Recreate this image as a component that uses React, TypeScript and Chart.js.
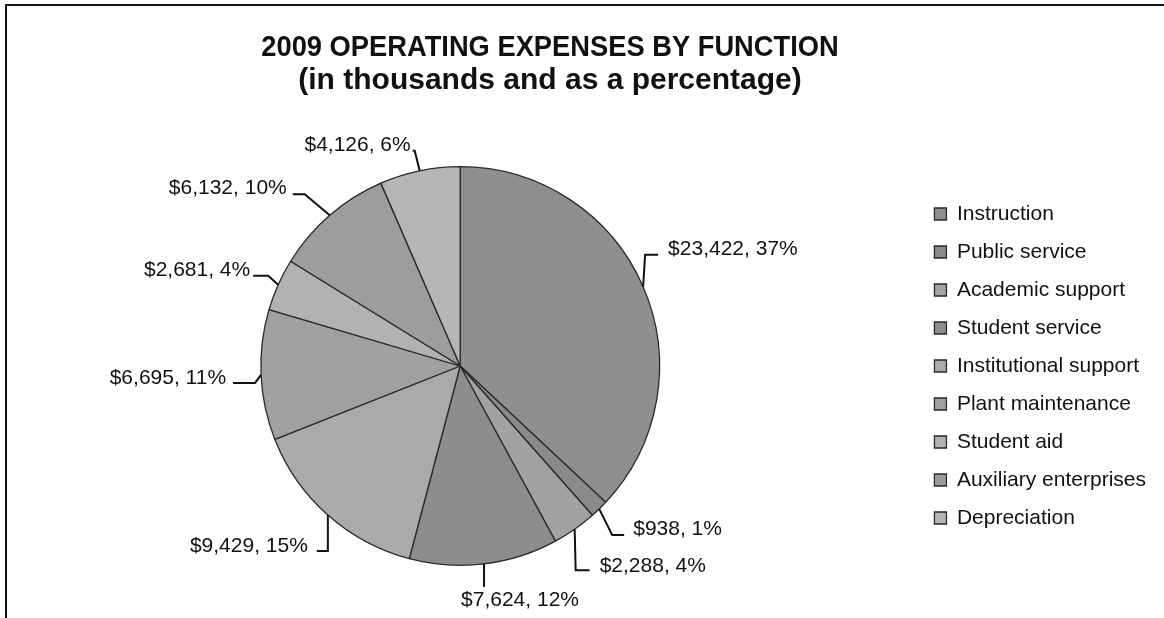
import React, { useEffect, useRef } from 'react';
import { Chart, registerables } from 'chart.js';

Chart.register(...registerables);

const categories = [
  'Instruction',
  'Public service',
  'Academic support',
  'Student service',
  'Institutional support',
  'Plant maintenance',
  'Student aid',
  'Auxiliary enterprises',
  'Depreciation',
];
const expenses = [23422, 938, 2288, 7624, 9429, 6695, 2681, 6132, 4126];
const percentLabels = [37, 1, 4, 12, 15, 11, 4, 10, 6];
const sliceColors = [
  '#8f8f8f',
  '#8a8a8a',
  '#a2a2a2',
  '#8d8d8d',
  '#aaaaaa',
  '#a0a0a0',
  '#b2b2b2',
  '#9d9d9d',
  '#b6b6b6',
];
const titleLines = ['2009 OPERATING EXPENSES BY FUNCTION', '(in thousands and as a percentage)'];

// leader-line layout, relative to the midpoint of each slice's outer edge
const leaderLayout = [
  { kx: 2, ky: -32, h: 13, gap: 10, dy: -6 },
  { kx: 13, ky: 26, h: 12, gap: 9, dy: -6 },
  { kx: 1, ky: 41, h: 14, gap: 10, dy: -4 },
  { kx: 0, ky: 23, below: true, tx: 36, ty: 13 },
  { kx: 0, ky: 36, h: -11, gap: 9, dy: -5 },
  { kx: -6, ky: 8, h: -22, gap: 7, dy: -5 },
  { kx: -10, ky: -9, h: -15, gap: 3, dy: -5 },
  { kx: -25, ky: -21, h: -12, gap: 6, dy: -6 },
  { kx: -5, ky: -20, h: -2, gap: 2, dy: -6 },
];

const FONT = "'Liberation Sans', Arial, sans-serif";

const fmt = (v: number) => '$' + v.toLocaleString('en-US');

const framePlugin = {
  id: 'frameAndTitle',
  beforeDraw(chart: any) {
    const ctx = chart.ctx;
    ctx.save();
    ctx.fillStyle = '#ffffff';
    ctx.fillRect(0, 0, chart.width, chart.height);
    ctx.strokeStyle = '#111111';
    ctx.lineWidth = 2;
    ctx.beginPath();
    ctx.moveTo(6, chart.height);
    ctx.lineTo(6, 5);
    ctx.lineTo(chart.width, 5);
    ctx.stroke();
    ctx.restore();
  },
  afterDraw(chart: any) {
    const ctx = chart.ctx;
    ctx.save();
    ctx.fillStyle = '#111111';
    ctx.textAlign = 'center';
    ctx.textBaseline = 'middle';
    ctx.font = `bold 30px ${FONT}`;
    const cx = 550;
    const ys = [48, 81];
    const sx = [0.91, 1.0];
    titleLines.forEach((t, i) => {
      ctx.save();
      ctx.translate(cx, ys[i]);
      ctx.scale(sx[i], 1);
      ctx.fillText(t, 0, 0);
      ctx.restore();
    });
    ctx.restore();
  },
};

const labelPlugin = {
  id: 'leaderLabels',
  afterDatasetsDraw(chart: any) {
    const ctx = chart.ctx;
    const meta = chart.getDatasetMeta(0);
    ctx.save();
    ctx.strokeStyle = '#111111';
    ctx.fillStyle = '#111111';
    ctx.lineWidth = 2;
    ctx.font = `21px ${FONT}`;
    ctx.textBaseline = 'middle';
    meta.data.forEach((arc: any, i: number) => {
      const p = arc.getProps(['x', 'y', 'startAngle', 'endAngle', 'outerRadius'], true);
      const mid = (p.startAngle + p.endAngle) / 2;
      const ex = p.x + Math.cos(mid) * p.outerRadius;
      const ey = p.y + Math.sin(mid) * p.outerRadius;
      const L: any = leaderLayout[i];
      const kx = ex + L.kx;
      const ky = ey + L.ky;
      const text = `${fmt(expenses[i])}, ${percentLabels[i]}%`;
      ctx.beginPath();
      ctx.moveTo(ex, ey);
      ctx.lineTo(kx, ky);
      if (L.below) {
        ctx.stroke();
        ctx.textAlign = 'center';
        ctx.fillText(text, kx + L.tx, ky + L.ty);
      } else {
        const tx = kx + L.h;
        ctx.lineTo(tx, ky);
        ctx.stroke();
        const right = L.h >= 0;
        ctx.textAlign = right ? 'left' : 'right';
        ctx.fillText(text, tx + (right ? L.gap : -L.gap), ky + L.dy);
      }
    });
    ctx.restore();
  },
};

export default function App() {
  const ref = useRef<HTMLCanvasElement | null>(null);
  useEffect(() => {
    if (!ref.current) return;
    const chart = new Chart(ref.current, {
      type: 'pie',
      data: {
        labels: categories,
        datasets: [
          {
            data: expenses,
            backgroundColor: sliceColors,
            borderColor: '#2a2a2a',
            borderWidth: 1.3,
          },
        ],
      },
      options: {
        responsive: false,
        animation: false,
        layout: { padding: { top: 166, bottom: 52, left: 3, right: 8 } },
        plugins: {
          tooltip: { enabled: false },
          title: { display: false },
          legend: {
            position: 'right',
            labels: {
              boxWidth: 12,
              boxHeight: 12,
              padding: 17,
              color: '#111111',
              font: { family: FONT, size: 21 },
            },
          },
        },
      },
      plugins: [framePlugin, labelPlugin],
    });
    return () => chart.destroy();
  }, []);
  return (
    <div style={{ position: 'fixed', left: 0, top: 0, width: 1164, height: 618, background: '#fff' }}>
      <canvas ref={ref} width={1164} height={618} style={{ display: 'block' }} />
    </div>
  );
}
